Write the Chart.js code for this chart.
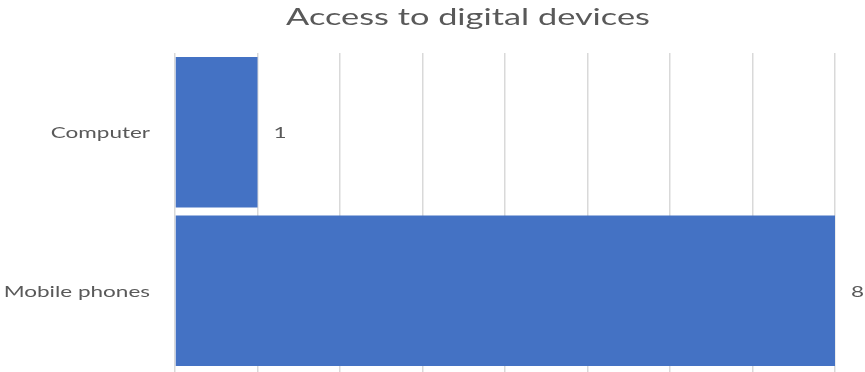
<!DOCTYPE html>
<html>
<head>
    <title>Access to digital devices</title>
    <script src="https://cdn.jsdelivr.net/npm/chart.js"></script>
    <style>
        html, body { margin: 0; padding: 0; background: #fff; }
        #wrap { width: 865px; height: 372px; }
    </style>
</head>
<body>
<div id="wrap"><canvas id="chart"></canvas></div>
<script>
    var chartTitle = 'Access to digital devices';
    var categories = ['Computer', 'Mobile phones'];
    var counts = [1, 8];
    var axisMax = 8;

    var textGray = '#595959';

    function stretchedText(ctx, text, x, y, align, font, stretch) {
        ctx.save();
        ctx.font = font;
        ctx.fillStyle = textGray;
        ctx.textBaseline = 'middle';
        ctx.textAlign = align;
        ctx.translate(x, y);
        ctx.scale(stretch, 1); // text is drawn a bit wider than the font
        ctx.fillText(text, 0, 0);
        ctx.restore();
    }

    // title, category names and value labels
    var textLayer = {
        id: 'textLayer',
        afterDraw: function(chart) {
            var ctx = chart.ctx;
            var xs = chart.scales.x;
            var ys = chart.scales.y;
            stretchedText(ctx, chartTitle, 468, 17, 'center', '24px Lato', 1.43);
            categories.forEach(function(name, i) {
                var y = ys.getPixelForTick(i) + 1;
                stretchedText(ctx, name, ys.right - 25, y, 'right', '15px Lato', 1.5);
                stretchedText(ctx, String(counts[i]), xs.getPixelForValue(counts[i]) + 16, y, 'left', '15px Lato', 1.5);
            });
        }
    };

    var ctx = document.getElementById('chart').getContext('2d');
    var chart = new Chart(ctx, {
        type: 'bar',
        data: {
            labels: categories,
            datasets: [{
                data: counts,
                backgroundColor: '#4472C4',
                borderWidth: 0,
                barPercentage: 0.95,
                categoryPercentage: 1.0
            }]
        },
        options: {
            indexAxis: 'y',
            responsive: true,
            maintainAspectRatio: false,
            animation: false,
            layout: { padding: { top: 53, right: 30, left: 0, bottom: 0 } },
            plugins: {
                legend: { display: false },
                title: { display: false },
                tooltip: { enabled: false }
            },
            scales: {
                x: {
                    min: 0,
                    max: axisMax,
                    ticks: { display: false, stepSize: 1 },
                    grid: { color: '#d9d9d9', lineWidth: 1.5, drawTicks: true, tickLength: 6 },
                    border: { display: false },
                    afterFit: function(scale) { scale.height = 2; }
                },
                y: {
                    ticks: { display: false },
                    grid: { display: false },
                    border: { display: false },
                    afterFit: function(scale) { scale.width = 175; }
                }
            }
        },
        plugins: [textLayer]
    });
</script>
</body>
</html>
